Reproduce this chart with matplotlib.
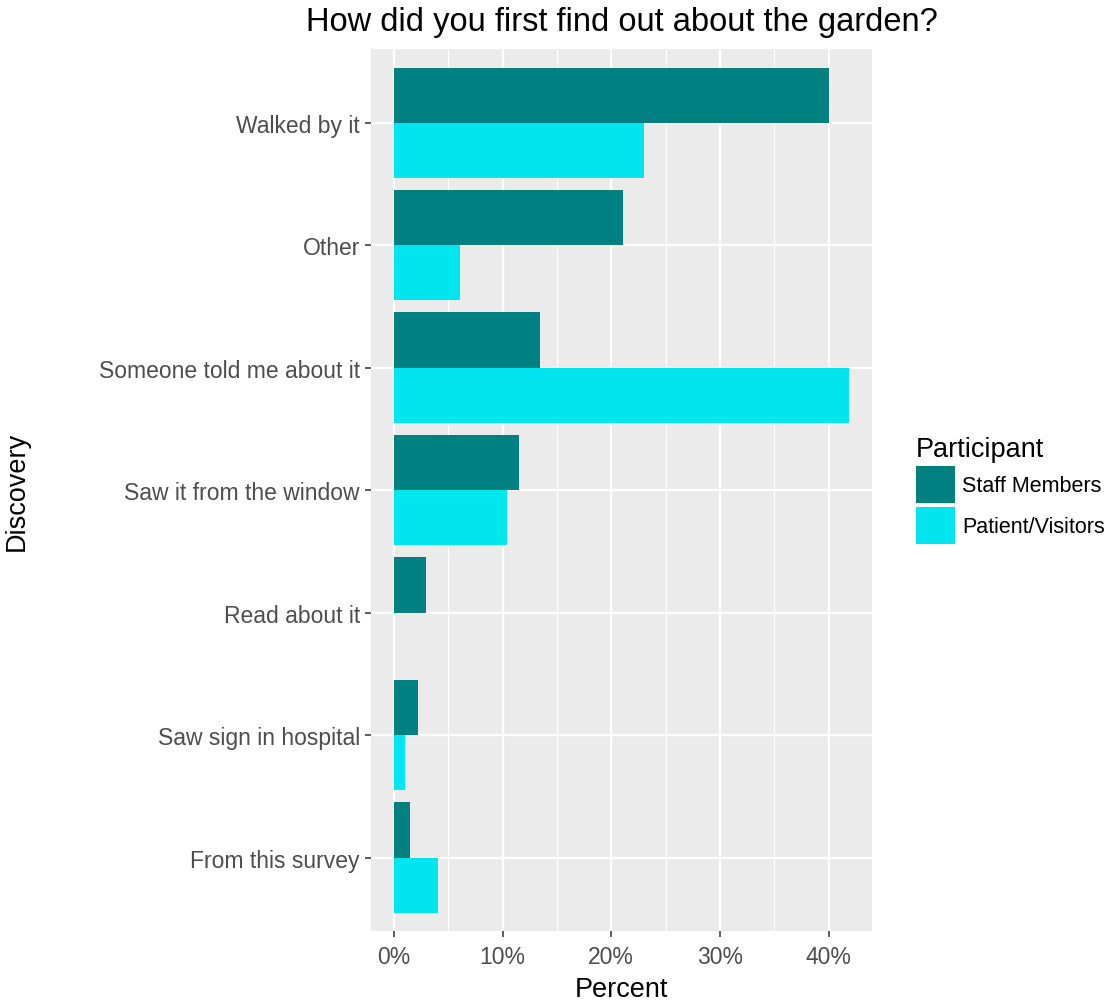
import numpy as np
import matplotlib.pyplot as plt
from matplotlib.patches import Patch
from matplotlib.ticker import MultipleLocator, FuncFormatter

plt.rcParams['font.family'] = ['Liberation Sans', 'DejaVu Sans']

# data (percent), top to bottom
categories = ['Walked by it', 'Other', 'Someone told me about it', 'Saw it from the window',
              'Read about it', 'Saw sign in hospital', 'From this survey']
staff = [40.0, 21.1, 13.4, 11.5, 3.0, 2.2, 1.5]
patients = [23.0, 6.1, 41.9, 10.4, 0.0, 1.0, 4.1]
series_names = ['Staff Members', 'Patient/Visitors']
colors = ['#008080', '#00E5EE']

fig = plt.figure(figsize=(11.14, 10.03), dpi=100)
ax = fig.add_axes([0.333, 0.0708, 0.45, 0.8792])
ax.set_facecolor('#EBEBEB')

n = len(categories)
y = np.arange(n)[::-1] + 1  # top category gets highest y
h = 0.45
ax.barh(y + h / 2, staff, height=h, color=colors[0], zorder=3)
ax.barh(y - h / 2, patients, height=h, color=colors[1], zorder=3)

ax.set_xlim(-2.1, 44.0)
ax.set_ylim(0.4, n + 0.6)
ax.set_yticks(y)
ax.set_yticklabels(categories)
ax.xaxis.set_major_locator(MultipleLocator(10))
ax.xaxis.set_minor_locator(MultipleLocator(5))
ax.xaxis.set_major_formatter(FuncFormatter(lambda v, p: f'{v:.0f}%'))

ax.grid(which='major', color='white', linewidth=1.6, zorder=0)
ax.grid(which='minor', axis='x', color='white', linewidth=0.8, zorder=0)
ax.set_axisbelow(True)
for s in ax.spines.values():
    s.set_visible(False)
ax.tick_params(which='major', length=4, color='#333333', labelsize=16.5,
               labelcolor='#4D4D4D', width=1.1, pad=4)
ax.tick_params(axis='x', pad=6)
ax.tick_params(which='minor', length=0)

ax.set_xlabel('Percent', fontsize=19.5, color='black', labelpad=6)
ax.set_ylabel('Discovery', fontsize=19.5, color='black')
ax.yaxis.set_label_coords(-0.68, 0.5)
ax.set_title('How did you first find out about the garden?', fontsize=23.5, pad=14)

handles = [Patch(facecolor=c, edgecolor='none') for c in colors]
leg = ax.legend(handles, series_names, title='Participant', loc='center left',
                bbox_to_anchor=(1.087, 0.5), frameon=False, fontsize=15.5,
                title_fontsize=19.5, handlelength=1.8, handleheight=2.25,
                handletextpad=0.35, labelspacing=0.2, borderaxespad=0,
                borderpad=0)
leg._legend_box.align = 'left'

fig.savefig('out.png', dpi=100)
